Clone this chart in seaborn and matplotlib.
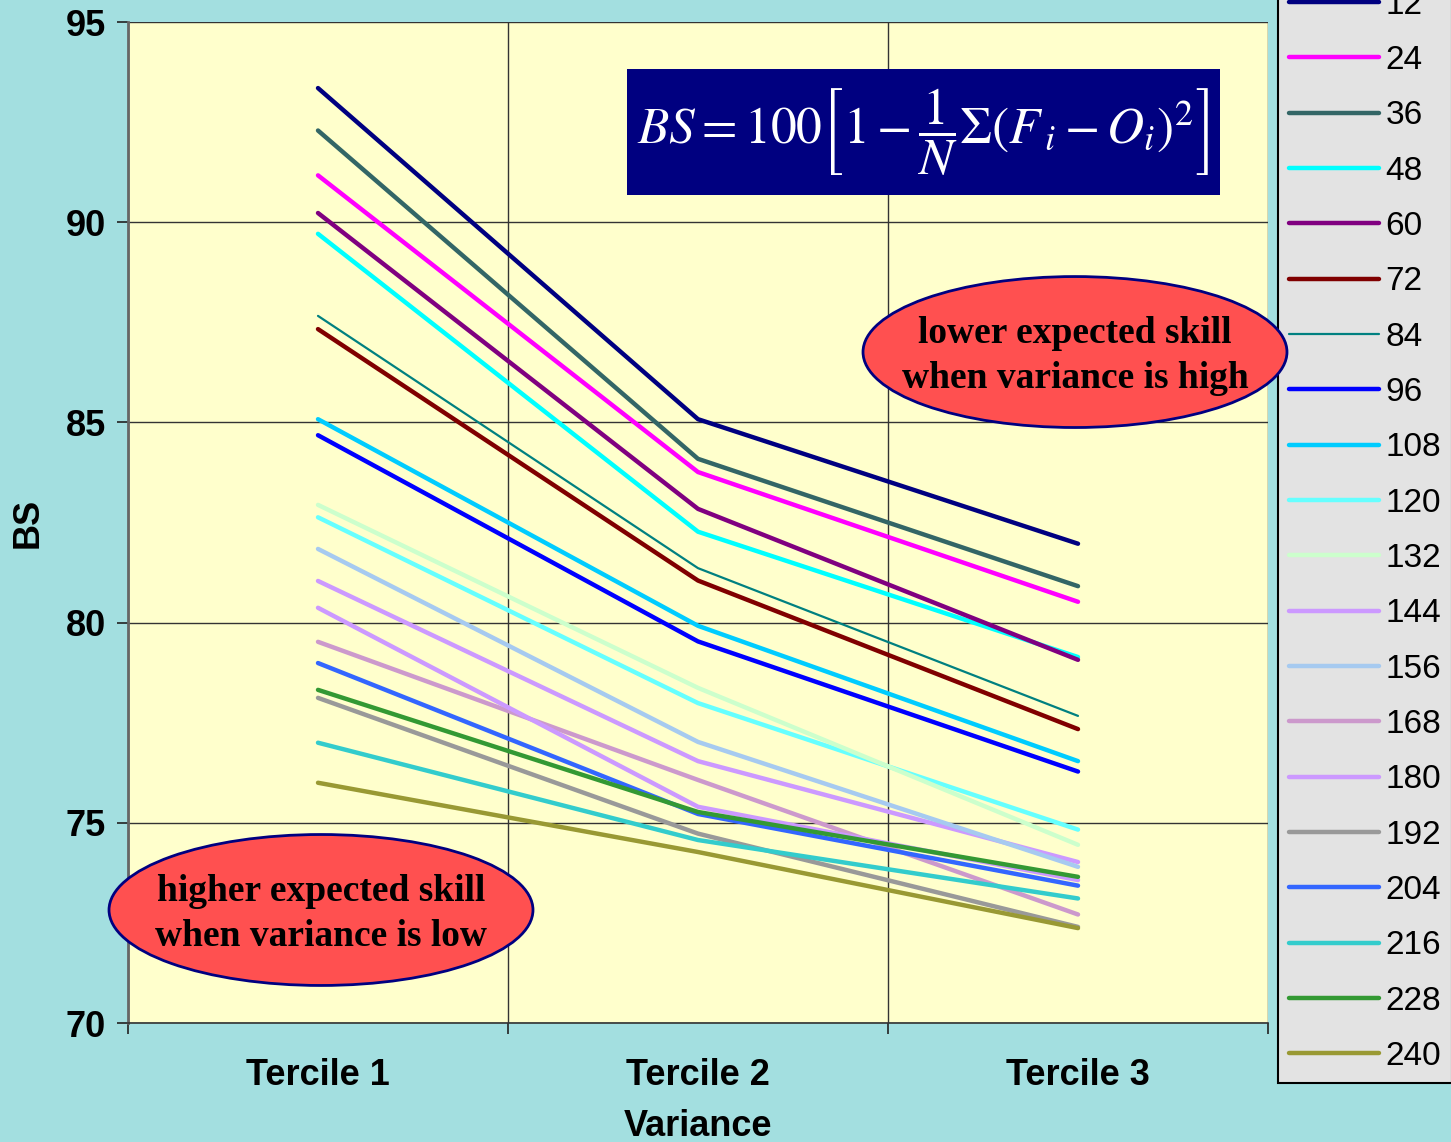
import numpy as np
import pandas as pd
import matplotlib
matplotlib.use('Agg')
import matplotlib.pyplot as plt
import seaborn as sns
from matplotlib.patches import Ellipse, Rectangle

terciles = ['Tercile 1', 'Tercile 2', 'Tercile 3']
leads = ['12', '24', '36', '48', '60', '72', '84', '96', '108', '120',
         '132', '144', '156', '168', '180', '192', '204', '216', '228', '240']

bs_12 = [93.35, 85.08, 81.97]
bs_24 = [91.17, 83.76, 80.52]
bs_36 = [92.29, 84.09, 80.91]
bs_48 = [89.71, 82.27, 79.14]
bs_60 = [90.23, 82.84, 79.07]
bs_72 = [87.33, 81.05, 77.34]
bs_84 = [87.66, 81.36, 77.67]
bs_96 = [84.68, 79.53, 76.28]
bs_108 = [85.08, 79.92, 76.54]
bs_120 = [82.63, 77.99, 74.83]
bs_132 = [82.94, 78.37, 74.45]
bs_144 = [81.04, 76.54, 74.02]
bs_156 = [81.84, 77.02, 73.90]
bs_168 = [79.52, 76.07, 72.71]
bs_180 = [80.37, 75.40, 73.57]
bs_192 = [78.12, 74.73, 72.40]
bs_204 = [78.99, 75.22, 73.43]
bs_216 = [77.00, 74.57, 73.11]
bs_228 = [78.32, 75.27, 73.65]
bs_240 = [76.00, 74.27, 72.37]

series = [bs_12, bs_24, bs_36, bs_48, bs_60, bs_72, bs_84, bs_96, bs_108, bs_120,
          bs_132, bs_144, bs_156, bs_168, bs_180, bs_192, bs_204, bs_216, bs_228, bs_240]

colors = ['#000080', '#ff00ff', '#336666', '#00ffff', '#800080', '#800000', '#008080',
          '#0000ff', '#00ccff', '#66ffff', '#ccffcc', '#cc99ff', '#a6caf0', '#cc99cc',
          '#cc99ff', '#999999', '#3366ff', '#33cccc', '#339933', '#999933']

bg = '#a3dfe0'
plt.rcParams['font.family'] = ['Liberation Sans', 'DejaVu Sans']
plt.rcParams['mathtext.fontset'] = 'stix'

fig = plt.figure(figsize=(14.51, 11.42), dpi=100, facecolor=bg)
ax = fig.add_axes([128 / 1451, 1 - 1023 / 1142, 1140 / 1451, 1001 / 1142])
ax.set_facecolor('#ffffcc')

for lead, vals, col in zip(leads, series, colors):
    lw = 1.6 if lead == '84' else 3.2
    sns.lineplot(x=terciles, y=vals, color=col, linewidth=lw, label=lead, ax=ax,
                 solid_capstyle='round', zorder=3)

ax.set_xlim(-0.5, 2.5)
ax.set_ylim(70, 95)
ax.set_yticks([70, 75, 80, 85, 90, 95])
ax.set_xticks([0, 1, 2])
ax.set_xticklabels(terciles)
ax.set_xticks([-0.5, 0.5, 1.5, 2.5], minor=True)
ax.tick_params(axis='x', which='major', length=0, pad=25, labelsize=26, colors='black')
ax.tick_params(axis='x', which='minor', length=8, width=1.2, direction='out', color='#222222')
ax.tick_params(axis='y', length=8, width=1.2, direction='out', pad=8, labelsize=26, color='#222222')
for lab in ax.get_xticklabels() + ax.get_yticklabels():
    lab.set_fontweight('bold')

ax.grid(False)
ax.yaxis.grid(True, color='#333333', linewidth=1.0, zorder=1)
ax.xaxis.grid(True, which='minor', color='#333333', linewidth=1.0, zorder=1)
ax.set_axisbelow(True)
for s in ['top', 'right']:
    ax.spines[s].set_visible(False)
ax.spines['left'].set_color('#666666')
ax.spines['left'].set_linewidth(2.0)
ax.spines['bottom'].set_color('#333333')
ax.spines['bottom'].set_linewidth(1.2)

ax.set_xlabel('Variance', fontsize=26, fontweight='bold', labelpad=12)
ax.set_ylabel('BS', fontsize=26, fontweight='bold', labelpad=14)

# formula box
ax.add_patch(Rectangle((0.4377, 0.8272), 0.5202, 0.1258, transform=ax.transAxes,
                       facecolor='#000080', edgecolor='none', zorder=6))
ax.text(0.6978, 0.890,
        r'$BS=100\left[1-\dfrac{1}{N}\Sigma\left(F_{\,i}-O_i\right)^2\right]$',
        transform=ax.transAxes, ha='center', va='center', color='white', fontsize=37, zorder=7)

# annotations
for cx, cy, txt in [(0.1693, 0.1129, 'higher expected skill\nwhen variance is low'),
                    (0.8307, 0.6703, 'lower expected skill\nwhen variance is high')]:
    ax.add_patch(Ellipse((cx, cy), 0.3719, 0.1508, transform=ax.transAxes,
                         facecolor='#ff5050', edgecolor='#000080', linewidth=2,
                         clip_on=False, zorder=8))
    ax.text(cx, cy - 0.004, txt, transform=ax.transAxes, ha='center', va='center',
            fontsize=27, fontweight='bold', family='Liberation Serif', linespacing=1.35,
            zorder=9, clip_on=False)

handles, labels = ax.get_legend_handles_labels()
ax.get_legend().remove()
leg = fig.legend(handles, labels, loc='lower left', bbox_to_anchor=(1278 / 1451, 59 / 1142),
                 fontsize=24, frameon=True, fancybox=False, framealpha=1,
                 facecolor='#e3e3e3', edgecolor='black', labelspacing=0.73,
                 handlelength=2.7, handletextpad=0.2, borderpad=0.33, borderaxespad=0)
leg.get_frame().set_linewidth(1.5)
leg.set_zorder(-1)

fig.savefig('out.png', dpi=100, facecolor=bg)
